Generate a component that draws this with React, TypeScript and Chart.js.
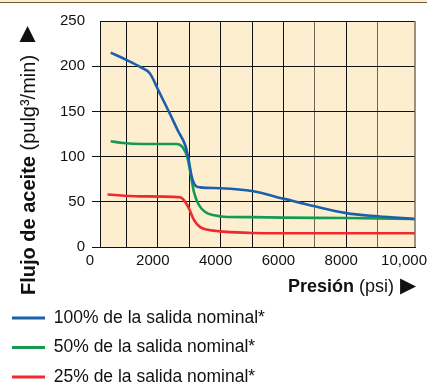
import React, { useEffect, useRef } from 'react';
import { Chart, registerables } from 'chart.js';

Chart.register(...registerables);

const seriesLabels = ['100% de la salida nominal*', '50% de la salida nominal*', '25% de la salida nominal*'];
const seriesColors = ['#1c5fab', '#159a55', '#ee2a2e'];

const pressure100 = [500, 1000, 1450, 1750, 2050, 2350, 2650, 2880, 2980, 3080, 3200, 3350, 4000, 5000, 6000, 7000, 8000, 9000, 10190];
const flow100 = [215, 207, 199, 192, 171, 150, 128, 112, 97, 78, 68, 66, 65, 62, 53.5, 45, 37.5, 34, 31];

const pressure50 = [500, 900, 1500, 2600, 2800, 2950, 3050, 3150, 3300, 3500, 3800, 4100, 5000, 6000, 8000, 10190];
const flow50 = [117, 115, 114, 114, 110, 98, 80, 61, 47, 39, 35, 33.5, 33, 32.5, 32, 31];

const pressure25 = [400, 1400, 2700, 2850, 3000, 3150, 3350, 3600, 4100, 5000, 6000, 10190];
const flow25 = [58, 56, 55, 51, 42, 30, 22, 19, 17, 15.5, 15.2, 15.2];

const xTickValues = [0, 1000, 2000, 3000, 4000, 5000, 6000, 7000, 8000, 9000, 10000];
const xMin = 160;
const xMax = 10190;
const yMin = 0;
const yMax = 250;
const yStep = 50;

const xTitleBold = 'Presión';
const xTitleNormal = ' (psi)';
const yTitleBold = 'Flujo de aceite';
const yTitleNormal = ' (pulg³/min)';
const arrowGlyph = '▶';

const FONT = '"Liberation Sans", Arial, Helvetica, sans-serif';

const zip = (xs: number[], ys: number[]) => xs.map((x, i) => ({ x, y: ys[i] }));

const decorPlugin = {
  id: 'decor',
  beforeDraw(chart: any) {
    const { ctx, chartArea: a, width } = chart;
    ctx.save();
    ctx.fillStyle = '#fdeecf';
    ctx.fillRect(0, 0, width, 2.5);
    ctx.strokeStyle = '#6e5a3c';
    ctx.lineWidth = 1;
    ctx.beginPath();
    ctx.moveTo(0, 2.5);
    ctx.lineTo(width, 2.5);
    ctx.stroke();
    ctx.fillStyle = '#fdeecf';
    ctx.fillRect(a.left, a.top, a.right - a.left, a.bottom - a.top);
    ctx.restore();
  },
  afterDraw(chart: any) {
    const { ctx, chartArea: a } = chart;
    ctx.save();
    // right frame
    ctx.strokeStyle = '#7a6f60';
    ctx.lineWidth = 1.5;
    ctx.beginPath();
    ctx.moveTo(a.right, a.top);
    ctx.lineTo(a.right, a.bottom);
    ctx.stroke();

    ctx.fillStyle = '#111';
    // x title
    ctx.textBaseline = 'alphabetic';
    ctx.textAlign = 'left';
    ctx.font = 'bold 18px ' + FONT;
    const xt = 288;
    const yt = 292;
    ctx.fillText(xTitleBold, xt, yt);
    let w = ctx.measureText(xTitleBold).width;
    ctx.font = '18px ' + FONT;
    ctx.fillText(xTitleNormal, xt + w, yt);
    ctx.font = '21px "DejaVu Sans", sans-serif';
    ctx.textAlign = 'center';
    ctx.textBaseline = 'middle';
    ctx.fillText(arrowGlyph, 408, 287);

    // y title (rotated)
    ctx.translate(35, 295);
    ctx.rotate(-Math.PI / 2);
    ctx.textAlign = 'left';
    ctx.textBaseline = 'alphabetic';
    ctx.font = 'bold 20px ' + FONT;
    ctx.fillText(yTitleBold, 0, 0);
    w = ctx.measureText(yTitleBold).width;
    ctx.font = '20px ' + FONT;
    ctx.fillText(yTitleNormal, w, 0);
    ctx.font = '21px "DejaVu Sans", sans-serif';
    ctx.textAlign = 'center';
    ctx.textBaseline = 'middle';
    ctx.fillText(arrowGlyph, 261, -7);
    ctx.restore();
  },
};

export default function App() {
  const ref = useRef<HTMLCanvasElement | null>(null);

  useEffect(() => {
    document.body.style.margin = '0';
    const canvas = ref.current;
    if (!canvas) return;
    const chart = new Chart(canvas, {
      type: 'line',
      data: {
        datasets: [
          { label: seriesLabels[0], data: zip(pressure100, flow100), borderColor: seriesColors[0], backgroundColor: seriesColors[0] },
          { label: seriesLabels[1], data: zip(pressure50, flow50), borderColor: seriesColors[1], backgroundColor: seriesColors[1] },
          { label: seriesLabels[2], data: zip(pressure25, flow25), borderColor: seriesColors[2], backgroundColor: seriesColors[2] },
        ].map((d) => ({
          ...d,
          borderWidth: 2.6,
          pointRadius: 0,
          fill: false,
          cubicInterpolationMode: 'monotone' as const,
        })),
      },
      options: {
        animation: false,
        responsive: true,
        maintainAspectRatio: false,
        layout: { padding: { top: 21, right: 12, left: 0, bottom: -7.75 } },
        plugins: {
          tooltip: { enabled: false },
          legend: {
            position: 'bottom',
            align: 'start',
            labels: {
              boxWidth: 33,
              boxHeight: 3,
              padding: 12,
              color: '#111',
              font: { family: FONT, size: 17.5 },
              generateLabels: (c: any) =>
                c.data.datasets.map((ds: any, i: number) => ({
                  text: ds.label,
                  fillStyle: ds.borderColor,
                  strokeStyle: ds.borderColor,
                  lineWidth: 0,
                  hidden: false,
                  datasetIndex: i,
                  fontColor: '#111',
                })),
            },
          },
        },
        scales: {
          x: {
            type: 'linear',
            min: xMin,
            max: xMax,
            afterBuildTicks: (s: any) => {
              s.ticks = xTickValues.map((v) => ({ value: v }));
            },
            afterFit: (s: any) => {
              s.height = 50.25;
              s.paddingLeft = 0;
              s.paddingRight = 0;
            },
            ticks: {
              autoSkip: false,
              maxRotation: 0,
              padding: 5,
              labelOffset: -5,
              color: '#111',
              font: { family: FONT, size: 15 },
              callback: (v: any) => {
                const n = Number(v);
                if (n % 2000 !== 0) return '';
                return n === 10000 ? '10,000' : String(n);
              },
            },
            grid: {
              drawTicks: false,
              lineWidth: 1,
              color: (c: any) => {
                const v = c.tick ? c.tick.value : -1;
                if (v === 0 || v === 10000) return 'rgba(0,0,0,0)';
                if (v === 7000 || v === 9000) return '#6f6656';
                return '#111';
              },
            },
            border: { display: true, color: '#111', width: 1 },
          },
          y: {
            min: yMin,
            max: yMax,
            afterFit: (s: any) => {
              s.width = 100;
              s.paddingTop = 0;
              s.paddingBottom = 0;
            },
            ticks: {
              stepSize: yStep,
              padding: 7,
              color: '#111',
              font: { family: FONT, size: 15 },
            },
            grid: {
              color: '#111',
              lineWidth: 1,
              tickLength: 8,
              tickColor: (c: any) => (c.tick && c.tick.value === 250 ? 'rgba(0,0,0,0)' : '#111'),
            },
            border: { display: true, color: '#111', width: 1 },
          },
        },
      },
      plugins: [decorPlugin],
    } as any);
    return () => chart.destroy();
  }, []);

  return (
    <div style={{ position: 'relative', width: 427, height: 388 }}>
      <canvas ref={ref} />
    </div>
  );
}
